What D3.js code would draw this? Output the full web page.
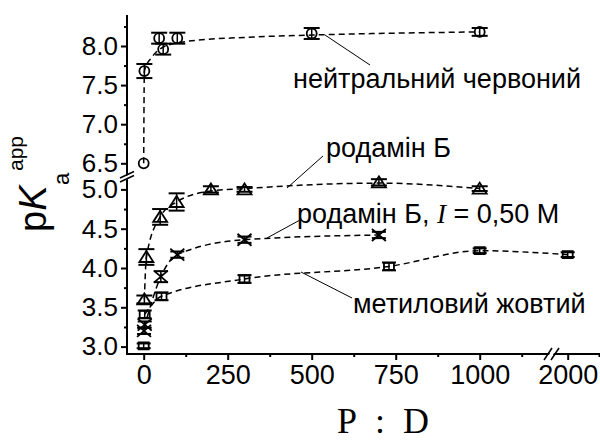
<!DOCTYPE html>
<html><head><meta charset="utf-8">
<script src="https://cdn.jsdelivr.net/npm/d3@7"></script>
<style>
html,body{margin:0;padding:0;background:#fff;}
svg{display:block;}
text{font-family:"Liberation Sans",Arial,sans-serif;fill:#000;}
</style></head>
<body>
<svg id="chart" width="600" height="441"></svg>
<script>
// ---- data (P:D ratio, apparent pKa, error) ----
const nrX   = [0, 2, 46, 58, 100, 500, 1000];
const nrY   = [6.50, 7.68, 8.10, 7.96, 8.10, 8.16, 8.18];
const nrErr = [0, 0.09, 0.07, 0.07, 0.07, 0.07, 0.05];
const nrFitX = [0, 2, 25, 60, 130, 300, 500, 1000];
const nrFitY = [6.50, 7.68, 7.86, 7.99, 8.06, 8.11, 8.14, 8.18];

const rbX   = [2, 8, 49, 98, 200, 300, 700, 1000];
const rbY   = [3.60, 4.14, 4.65, 4.84, 5.00, 5.00, 5.09, 5.01];
const rbErr = [0.05, 0.10, 0.10, 0.11, 0.04, 0.03, 0.04, 0.03];
const rbFitX = [2, 8, 49, 98, 200, 300, 500, 700, 1000];
const rbFitY = [3.60, 4.14, 4.65, 4.84, 4.98, 5.01, 5.06, 5.08, 5.01];

const rb05X   = [1, 3, 51, 100, 300, 700];
const rb05Y   = [3.20, 3.28, 3.89, 4.17, 4.36, 4.42];
const rb05Err = [0.04, 0.04, 0.07, 0.04, 0.04, 0.04];
const rb05FitX = [2, 51, 100, 300, 700];
const rb05FitY = [3.25, 3.89, 4.17, 4.36, 4.42];

const myX   = [0, 3, 53, 300, 730, 1000, 2000];
const myY   = [3.01, 3.41, 3.64, 3.86, 4.02, 4.22, 4.17];
const myErr = [0.03, 0.05, 0.05, 0.05, 0.05, 0.03, 0.03];
const myFitX = [3, 53, 300, 730, 1000, 2000];
const myFitY = [3.41, 3.64, 3.86, 4.02, 4.22, 4.17];

const xMajorLeft = [0, 250, 500, 750, 1000];
const xMinorLeft = [125, 375, 625, 875, 1125];
const xMajorRight = [2000];
const xMinorRight = [2100];
const yMajorUpper = [6.5, 7.0, 7.5, 8.0];
const yMinorUpper = [6.75, 7.25, 7.75, 8.25];
const yMajorLower = [3.0, 3.5, 4.0, 4.5, 5.0];
const yMinorLower = [3.25, 3.75, 4.25, 4.75];

const labels = {
  nr: "нейтральний червоний",
  rb: "родамін Б",
  rb05a: "родамін Б, ", rb05I: "I", rb05b: " = 0,50 М",
  my: "метиловий жовтий"
};

// ---- scales ----
const xLeft  = d3.scaleLinear().domain([0, 1000]).range([143.7, 479.7]);
const xRight = d3.scaleLinear().domain([2000, 2100]).range([567.7, 599]);
const yUpper = d3.scaleLinear().domain([6.5, 8.0]).range([163.3, 46.0]);
const yLower = d3.scaleLinear().domain([3.0, 5.0]).range([346.6, 189.4]);
const xPos = v => v > 1500 ? xRight(v) : xLeft(v);
const yPos = v => v > 5.8 ? yUpper(v) : yLower(v);

const svg = d3.select("#chart");
const axX = 127, axY = 354;

// ---- axes ----
function styleAxis(fs){
  return g => {
    g.select(".domain").remove();
    g.selectAll(".tick line").attr("stroke","#000").attr("stroke-width",2);
    g.selectAll(".tick text").style("font-size",fs).attr("fill","#000");
  };
}
// x axis
const gx = svg.append("g").attr("transform",`translate(0,${axY})`);
gx.append("g").call(d3.axisBottom(xLeft).tickValues(xMajorLeft).tickSize(6).tickPadding(5).tickFormat(d3.format("d"))).call(styleAxis("27px"));
gx.append("g").call(d3.axisBottom(xLeft).tickValues(xMinorLeft).tickSize(3).tickFormat("")).call(styleAxis("27px"));
gx.append("g").call(d3.axisBottom(xRight).tickValues(xMajorRight).tickSize(6).tickPadding(5).tickFormat(d3.format("d"))).call(styleAxis("27px"));
gx.append("g").call(d3.axisBottom(xRight).tickValues(xMinorRight).tickSize(3).tickFormat("")).call(styleAxis("27px"));
gx.selectAll(".tick text").attr("dy","0.71em");

// y axis
const gy = svg.append("g").attr("transform",`translate(${axX},0)`);
gy.append("g").call(d3.axisLeft(yUpper).tickValues(yMajorUpper).tickSize(6).tickPadding(3).tickFormat(d3.format(".1f"))).call(styleAxis("26px"));
gy.append("g").call(d3.axisLeft(yUpper).tickValues(yMinorUpper).tickSize(3).tickFormat("")).call(styleAxis("26px"));
gy.append("g").call(d3.axisLeft(yLower).tickValues(yMajorLower).tickSize(6).tickPadding(3).tickFormat(d3.format(".1f"))).call(styleAxis("26px"));
gy.append("g").call(d3.axisLeft(yLower).tickValues(yMinorLower).tickSize(3).tickFormat("")).call(styleAxis("26px"));

// axis lines
svg.append("line").attr("x1",axX).attr("x2",axX).attr("y1",15).attr("y2",axY+1).attr("stroke","#000").attr("stroke-width",2);
svg.append("line").attr("x1",axX-1).attr("x2",600).attr("y1",axY).attr("y2",axY).attr("stroke","#000").attr("stroke-width",2);

// y break
svg.append("polygon").attr("points","121,178.5 133,172.5 133,176.5 121,182.5").attr("fill","#fff");
svg.append("line").attr("x1",120).attr("y1",182).attr("x2",134).attr("y2",175.5).attr("stroke","#000").attr("stroke-width",1.5);
svg.append("line").attr("x1",120).attr("y1",178).attr("x2",134).attr("y2",171.5).attr("stroke","#000").attr("stroke-width",1.5);
// x break
svg.append("polygon").attr("points","546,360 553,348 557,348 550,360").attr("fill","#fff");
svg.append("line").attr("x1",544).attr("y1",360).attr("x2",552).attr("y2",348).attr("stroke","#000").attr("stroke-width",1.5);
svg.append("line").attr("x1",551).attr("y1",360).attr("x2",559).attr("y2",348).attr("stroke","#000").attr("stroke-width",1.5);

// ---- fitted dashed curves ----
const line = d3.line().x(d => xPos(d[0])).y(d => yPos(d[1])).curve(d3.curveMonotoneX);
const fits = [
  d3.zip(nrFitX, nrFitY), d3.zip(rbFitX, rbFitY),
  d3.zip(rb05FitX, rb05FitY), d3.zip(myFitX, myFitY)
];
svg.append("g").selectAll("path").data(fits).join("path")
  .attr("d", line).attr("fill","none").attr("stroke","#000")
  .attr("stroke-width",1.5).attr("stroke-dasharray","6,4");

// ---- error bars and markers ----
function series(xs, ys, errs, shape, cap){
  const data = d3.zip(xs, ys, errs);
  const g = svg.append("g").attr("fill","none").attr("stroke","#000");
  data.forEach(([x, y, e]) => {
    const cx = xPos(x), cy = yPos(y);
    if (e > 0) {
      const y1 = yPos(y + e), y2 = yPos(y - e);
      g.append("line").attr("x1",cx).attr("x2",cx).attr("y1",y1).attr("y2",y2).attr("stroke-width",1.5);
      g.append("line").attr("x1",cx-cap).attr("x2",cx+cap).attr("y1",y1).attr("y2",y1).attr("stroke-width",2);
      g.append("line").attr("x1",cx-cap).attr("x2",cx+cap).attr("y1",y2).attr("y2",y2).attr("stroke-width",2);
    }
    g.append("path").attr("transform",`translate(${cx},${cy})`).attr("d", shape).attr("stroke-width",1.8);
  });
}
const sym = (type, size) => d3.symbol().type(type).size(size)();
series(nrX, nrY, nrErr, sym(d3.symbolCircle, 78), 8);
series(rbX, rbY, rbErr, "M0,-6L7,5L-7,5Z", 8);
series(rb05X, rb05Y, rb05Err, "M-7,-6L7,6M-7,6L7,-6", 7);
series(myX, myY, myErr, "M-5,-3.5H5V3.5H-5Z", 7);

// ---- leader lines ----
const leaders = [[325,35,370,65],[287,188,323,156],[267,238,300,220],[301,272,352,298]];
svg.append("g").selectAll("line").data(leaders).join("line")
  .attr("x1",d=>d[0]).attr("y1",d=>d[1]).attr("x2",d=>d[2]).attr("y2",d=>d[3])
  .attr("stroke","#000").attr("stroke-width",1);

// ---- annotations ----
const ann = svg.append("g").style("font-size","27px");
ann.append("text").attr("x",293).attr("y",88).text(labels.nr);
ann.append("text").attr("x",326).attr("y",157).text(labels.rb);
const t3 = ann.append("text").attr("x",297).attr("y",223);
t3.append("tspan").text(labels.rb05a);
t3.append("tspan").style("font-family","'Liberation Serif','Times New Roman',serif").style("font-style","italic").text(labels.rb05I);
t3.append("tspan").text(labels.rb05b);
ann.append("text").attr("x",353).attr("y",313).text(labels.my);

// ---- axis titles ----
svg.append("text").attr("x",337).attr("y",433)
  .style("font-family","'Liberation Serif','Times New Roman',serif").style("font-size","36px")
  .text("P\u2002:\u2002D");

const yl = svg.append("text").attr("transform","translate(46,232) rotate(-90)");
yl.append("tspan").attr("x",0).attr("y",0).style("font-size","38px").text("p");
yl.append("tspan").style("font-size","38px").style("font-style","italic").text("K");
yl.append("tspan").attr("x",47).attr("y",23).style("font-size","22px").text("a");
yl.append("tspan").attr("x",61).attr("y",-23).style("font-size","21px").text("app");
</script>
</body></html>
